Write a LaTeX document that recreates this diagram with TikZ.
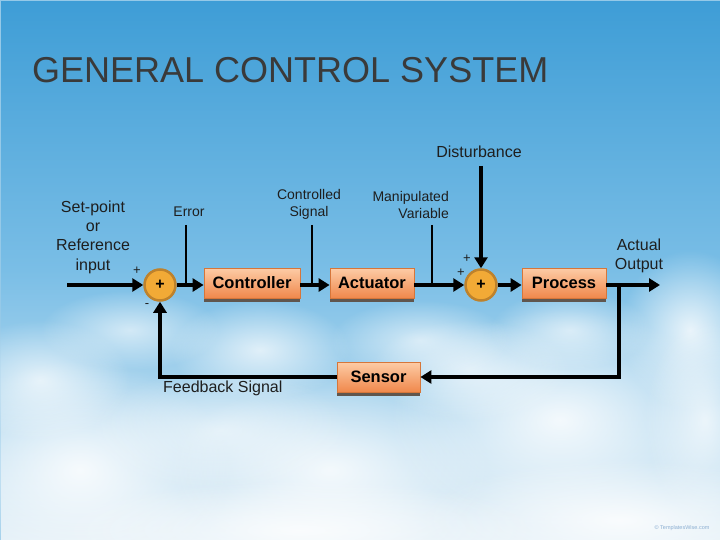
\documentclass[tikz,border=0pt]{standalone}
\usepackage{fontspec}
\setmainfont{Liberation Sans}
\usetikzlibrary{arrows.meta,shadows,fadings}
\definecolor{skytop}{RGB}{62,157,214}
\definecolor{skymid}{RGB}{122,190,230}
\definecolor{skybot}{RGB}{226,239,247}
\definecolor{boxtop}{RGB}{253,204,166}
\definecolor{boxbot}{RGB}{240,136,76}
\definecolor{boxedge}{RGB}{214,118,58}
\definecolor{boxshadow}{RGB}{96,86,78}
\definecolor{sumfill}{RGB}{242,170,54}
\definecolor{sumedge}{RGB}{190,130,44}
\definecolor{titlecol}{RGB}{58,58,58}
\definecolor{labcol}{RGB}{30,30,30}
\definecolor{wmark}{RGB}{140,175,210}
\tikzfading[name=cloudfade, inner color=transparent!0, outer color=transparent!100]
\begin{document}
\begin{tikzpicture}[x=1pt,y=-1pt,
  blk/.style={draw=boxedge, line width=0.8pt, top color=boxtop, bottom color=boxbot,
    minimum height=30pt, inner sep=0pt, text=black,
    font=\fontsize{16.5}{18}\selectfont\bfseries,
    drop shadow={shadow xshift=0pt, shadow yshift=-3.5pt, fill=boxshadow, opacity=1}},
  sumc/.style={circle, draw=sumedge, line width=2.5pt, fill=sumfill, minimum size=31pt,
    inner sep=0pt, font=\fontsize{16}{18}\selectfont\bfseries},
  flow/.style={line width=3.5pt, draw=black, -{Triangle[length=11pt,width=13pt]}},
  tagline/.style={line width=2pt, draw=black},
  lab/.style={text=labcol, inner sep=0pt, align=center, font=\fontsize{16}{19.3}\selectfont},
  slab/.style={text=labcol, inner sep=0pt, align=center, font=\fontsize{14}{17}\selectfont},
  sign/.style={text=labcol, inner sep=0pt, font=\fontsize{13}{14}\selectfont},
  cloud/.style={fill=white, path fading=cloudfade}]
\useasboundingbox (0,0) rectangle (720,540);
% background sky
\shade[top color=skytop, bottom color=skybot, middle color=skymid] (0,0) rectangle (720,540);
\draw[line width=1.2pt, color=skytop!55!white] (0,0.6) -- (720,0.6);
\draw[line width=1.2pt, color=skytop!55!white] (0.6,0) -- (0.6,540);
% clouds
\fill[cloud, opacity=0.85] (80,470) ellipse (150 and 110);
\fill[cloud, opacity=0.7] (40,380) ellipse (90 and 60);
\fill[cloud, opacity=0.7] (260,350) ellipse (90 and 50);
\fill[cloud, opacity=0.6] (130,330) ellipse (90 and 40);
\fill[cloud, opacity=0.8] (330,470) ellipse (160 and 90);
\fill[cloud, opacity=0.6] (220,430) ellipse (130 and 60);
\fill[cloud, opacity=0.85] (560,420) ellipse (170 and 110);
\fill[cloud, opacity=0.6] (470,370) ellipse (100 and 50);
\fill[cloud, opacity=0.6] (570,330) ellipse (80 and 40);
\fill[cloud, opacity=0.8] (690,330) ellipse (70 and 80);
\fill[cloud, opacity=0.7] (705,420) ellipse (60 and 100);
\fill[cloud, opacity=0.6] (420,340) ellipse (90 and 40);
\fill[cloud, opacity=0.85] (620,520) ellipse (200 and 60);
\fill[cloud, opacity=0.8] (300,530) ellipse (240 and 50);
% title
\node[anchor=base west, inner sep=0pt, text=titlecol, font=\fontsize{36}{40}\selectfont] (title) at (32,83) {GENERAL CONTROL SYSTEM};
% blocks
\node[sumc] (sum1) at (160,285) {+};
\node[blk, minimum width=96pt] (ctrl) at (252,283) {Controller};
\node[blk, minimum width=84pt] (act) at (372,283) {Actuator};
\node[sumc] (sum2) at (481,285) {+};
\node[blk, minimum width=84pt] (proc) at (564,283) {Process};
\node[blk, minimum width=83pt] (sens) at (378.5,377) {Sensor};
% coordinates
\coordinate (in) at (67,285);
\coordinate (out) at (660,285);
\coordinate (br) at (619,285);
\coordinate (dist) at (481,166);
\coordinate (errtop) at (186,225);
\coordinate (cstop) at (312,225);
\coordinate (mvtop) at (432,225);
% connectors
\draw[flow] (in) -- (sum1.west);
\draw[flow] (sum1.east) -- (ctrl.west |- sum1);
\draw[flow] (ctrl.east |- sum1) -- (act.west |- sum1);
\draw[flow] (act.east |- sum1) -- (sum2.west);
\draw[flow] (dist) -- (sum2.north);
\draw[flow] (sum2.east) -- (proc.west |- sum2);
\draw[flow] (proc.east |- sum2) -- (out);
\draw[flow] (br) |- (sens.east);
\draw[flow] (sens.west) -| (sum1.south);
\draw[tagline] (errtop) -- (errtop |- sum1);
\draw[tagline] (cstop) -- (cstop |- sum1);
\draw[tagline] (mvtop) -- (mvtop |- sum1);
% labels
\node[lab] (sp) at (93,237) {Set-point\\or\\Reference\\input};
\node[sign] (p1) at (137,271) {+};
\node[sign] (m1) at (147,306) {-};
\node[slab] (err) at (189,212) {Error};
\node[slab] (cs) at (309,204.5) {Controlled\\Signal};
\node[slab, align=right, anchor=east] (mv) at (449,204.5) {Manipulated\\Variable};
\node[lab] (dl) at (479,152) {Disturbance};
\node[sign] (p2) at (467,259) {+};
\node[sign] (p3) at (461,273) {+};
\node[lab] (ao) at (639,256) {Actual\\Output};
\node[lab, anchor=west] (fb) at (163,388) {Feedback Signal};
\node[text=wmark, inner sep=0pt, font=\fontsize{5.5}{6}\selectfont] (wm) at (682,528) {© TemplatesWise.com};
\end{tikzpicture}
\end{document}
